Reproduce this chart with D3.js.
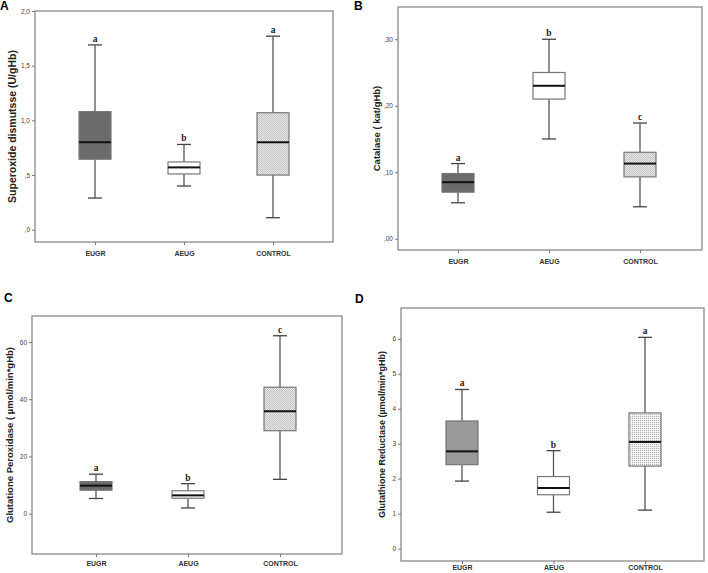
<!DOCTYPE html>
<html><head><meta charset="utf-8">
<script src="https://cdn.jsdelivr.net/npm/d3@7"></script>
<style>body{margin:0;background:#fff}svg{display:block}</style>
</head><body>
<svg id="c" width="708" height="573"></svg>
<script>
const categories = ["EUGR", "AEUG", "CONTROL"];
// [lower whisker, q1, median, q3, upper whisker]
const sodStats = [[0.29,0.645,0.80,1.08,1.69],[0.40,0.51,0.57,0.62,0.78],[0.11,0.50,0.80,1.07,1.77]];
const catStats = [[0.054,0.070,0.085,0.098,0.113],[0.15,0.21,0.23,0.25,0.30],[0.048,0.093,0.113,0.130,0.174]];
const gpxStats = [[5.3,8.2,9.8,11.2,13.8],[2.0,5.4,6.4,8.0,10.5],[12.0,29.0,35.8,44.2,62.2]];
const grStats  = [[1.93,2.40,2.78,3.65,4.55],[1.04,1.54,1.73,2.06,2.80],[1.10,2.36,3.05,3.88,6.04]];
const sodLetters = ["a","b","a"];
const catLetters = ["a","b","c"];
const gpxLetters = ["a","b","c"];
const grLetters  = ["a","b","a"];
const sodTicks = [0,0.5,1.0,1.5,2.0];
const sodTickLabels = [",0",",5","1,0","1,5","2,0"];
const catTicks = [0,0.1,0.2,0.3];
const catTickLabels = [",00",",10",",20",",30"];
const gpxTicks = [0,20,40,60];
const gpxTickLabels = ["0","20","40","60"];
const grTicks = [0,1,2,3,4,5,6];
const grTickLabels = ["0","1","2","3","4","5","6"];

const svg = d3.select("#c");
const defs = svg.append("defs");
const p1 = defs.append("pattern").attr("id","checker").attr("width",2).attr("height",2).attr("patternUnits","userSpaceOnUse");
p1.append("rect").attr("width",2).attr("height",2).attr("fill","#e6e6e6");
p1.append("rect").attr("width",1).attr("height",1).attr("fill","#c4c4c4");
p1.append("rect").attr("x",1).attr("y",1).attr("width",1).attr("height",1).attr("fill","#c4c4c4");
const p2 = defs.append("pattern").attr("id","dots").attr("width",2).attr("height",2).attr("patternUnits","userSpaceOnUse");
p2.append("rect").attr("width",2).attr("height",2).attr("fill","#f2f2f2");
p2.append("rect").attr("width",1).attr("height",1).attr("fill","#b0b0b0");

function panel(o){
  const g = svg.append("g");
  const y = d3.scaleLinear().domain(o.domain).range([o.bottom, o.top]);
  const x = d3.scalePoint().domain(categories).range(o.xr);
  g.append("rect").attr("x",o.left).attr("y",o.top).attr("width",o.right-o.left).attr("height",o.bottom-o.top)
    .attr("fill","none").attr("stroke","#8a8a8a").attr("stroke-width",1.3);
  const ya = d3.axisLeft(y).tickValues(o.ticks).tickSize(3).tickPadding(2)
    .tickFormat((d,i)=>o.tickLabels[i]);
  const yg = g.append("g").attr("transform",`translate(${o.left},0)`).call(ya);
  yg.select(".domain").remove();
  yg.selectAll("line").attr("stroke","#777");
  yg.selectAll("text").attr("font-family","Liberation Sans, Arial, sans-serif").attr("font-size",6.5).attr("fill","#444");
  const xa = d3.axisBottom(x).tickSize(3).tickPadding(o.xPad);
  const xg = g.append("g").attr("transform",`translate(0,${o.bottom})`).call(xa);
  xg.select(".domain").remove();
  xg.selectAll("line").attr("stroke","#777");
  xg.selectAll("text").attr("font-family","Liberation Sans, Arial, sans-serif").attr("font-size",7).attr("font-weight","bold").attr("fill","#333");
  g.append("text").attr("transform",`translate(${o.labelX},${(o.top+o.bottom)/2}) rotate(-90)`)
    .attr("text-anchor","middle").attr("font-family","Liberation Sans, Arial, sans-serif")
    .attr("font-size",o.labelSize).attr("font-weight","bold").attr("fill","#222").text(o.ylabel);
  g.append("text").attr("x",o.letterX).attr("y",o.letterY).attr("font-family","Liberation Sans, Arial, sans-serif")
    .attr("font-size",12).attr("font-weight","bold").attr("fill","#000").text(o.letter);
  const bw = 32, cw = 14;
  o.stats.forEach((s,i)=>{
    const cx = x(categories[i]);
    const bg = g.append("g");
    bg.append("line").attr("x1",cx).attr("x2",cx).attr("y1",y(s[0])).attr("y2",y(s[1])).attr("stroke","#555").attr("stroke-width",1.3);
    bg.append("line").attr("x1",cx).attr("x2",cx).attr("y1",y(s[3])).attr("y2",y(s[4])).attr("stroke","#555").attr("stroke-width",1.3);
    bg.append("line").attr("x1",cx-cw/2).attr("x2",cx+cw/2).attr("y1",y(s[0])).attr("y2",y(s[0])).attr("stroke","#444").attr("stroke-width",1.3);
    bg.append("line").attr("x1",cx-cw/2).attr("x2",cx+cw/2).attr("y1",y(s[4])).attr("y2",y(s[4])).attr("stroke","#444").attr("stroke-width",1.3);
    bg.append("rect").attr("x",cx-bw/2).attr("y",y(s[3])).attr("width",bw).attr("height",y(s[1])-y(s[3]))
      .attr("fill",o.fills[i]).attr("stroke","#777").attr("stroke-width",1.2);
    bg.append("line").attr("x1",cx-bw/2).attr("x2",cx+bw/2).attr("y1",y(s[2])).attr("y2",y(s[2])).attr("stroke","#111").attr("stroke-width",2);
    bg.append("text").attr("x",cx).attr("y",y(s[4])-3).attr("text-anchor","middle")
      .attr("font-family","Liberation Serif, Times New Roman, serif").attr("font-size",9.5).attr("font-weight","bold")
      .attr("fill","#222").text(o.letters[i]);
  });
}

panel({letter:"A",letterX:0,letterY:10,left:35,right:333,top:11,bottom:242,xr:[95,273],xPad:6,
  domain:[-0.112,2.0],ticks:sodTicks,tickLabels:sodTickLabels,stats:sodStats,letters:sodLetters,labelSize:10.5,
  ylabel:"Superoxide dismutsse (U/gHb)",labelX:16,fills:["#6b6b6b","#ffffff","url(#checker)"]});
panel({letter:"B",letterX:354,letterY:10,left:398,right:702,top:7,bottom:250,xr:[458,640],xPad:6,
  domain:[-0.017,0.3485],ticks:catTicks,tickLabels:catTickLabels,stats:catStats,letters:catLetters,labelSize:9.5,
  ylabel:"Catalase ( kat/gHb)",labelX:380,fills:["#6b6b6b","#ffffff","url(#checker)"]});
panel({letter:"C",letterX:4,letterY:302,left:32,right:342,top:316,bottom:554,xr:[96,280],xPad:4,
  domain:[-14.1,69.1],ticks:gpxTicks,tickLabels:gpxTickLabels,stats:gpxStats,letters:gpxLetters,labelSize:9.5,
  ylabel:"Glutatione Peroxidase ( µmol/min*gHb)",labelX:13,fills:["#6b6b6b","#ffffff","url(#checker)"]});
panel({letter:"D",letterX:355,letterY:303,left:401,right:704,top:308,bottom:561,xr:[462,645],xPad:1.5,
  domain:[-0.355,6.88],ticks:grTicks,tickLabels:grTickLabels,stats:grStats,letters:grLetters,labelSize:9,
  ylabel:"Glutathione Reductase (µmol/min*gHb)",labelX:385,fills:["#999999","#ffffff","url(#dots)"]});
</script>
</body></html>
